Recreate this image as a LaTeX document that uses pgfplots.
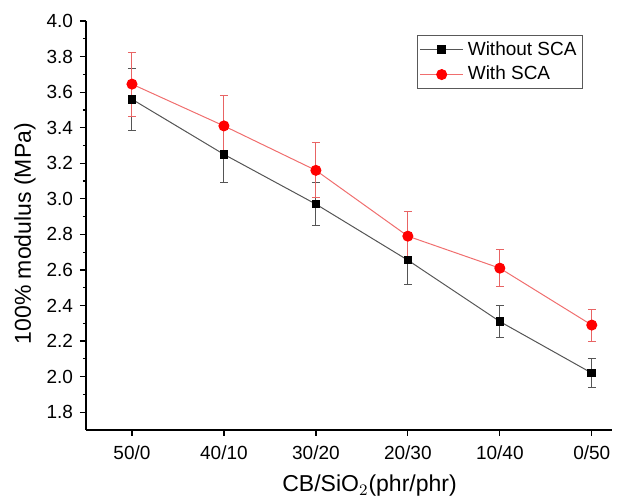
\documentclass[border=0pt]{standalone}
\usepackage{pgfplots}
\pgfplotsset{compat=1.18}
\usepackage{fontspec}
\setmainfont{Liberation Sans}
\definecolor{lgray}{RGB}{85,85,85}
\definecolor{lred}{RGB}{240,110,110}
\definecolor{ered}{RGB}{232,100,100}
\pgfplotstableread{
x y e
0 3.56 0.175
1 3.25 0.16
2 2.97 0.12
3 2.655 0.135
4 2.31 0.09
5 2.02 0.08
}\without
\pgfplotstableread{
x y e
0 3.645 0.18
1 3.41 0.17
2 3.16 0.155
3 2.79 0.14
4 2.61 0.105
5 2.29 0.09
}\withsca
\begin{document}
\begin{tikzpicture}
\useasboundingbox (0,0) rectangle (310pt,248.5pt);
\begin{axis}[
  at={(43pt,33.5pt)}, anchor=south west,
  scale only axis, width=263pt, height=204.5pt,
  xmin=-0.5, xmax=5.22, ymin=1.7, ymax=4.0,
  axis x line=bottom, axis y line=left,
  axis line style={-, line width=0.7pt, black},
  tick align=outside,
  major tick length=3pt, minor tick length=1.6pt,
  every tick/.style={black, line width=0.6pt},
  xtick={0,1,2,3,4,5},
  xticklabels={50/0,40/10,30/20,20/30,10/40,0/50},
  ytick={1.8,2,2.2,2.4,2.6,2.8,3,3.2,3.4,3.6,3.8,4},
  minor ytick={1.9,2.1,2.3,2.5,2.7,2.9,3.1,3.3,3.5,3.7,3.9},
  yticklabel style={/pgf/number format/.cd, fixed, fixed zerofill, precision=1, assume math mode=true},
  xticklabel style={yshift=-1.5pt},
  ticklabel style={font=\fontsize{9.5}{11}\selectfont},
  xlabel={CB/SiO$_2$(phr/phr)},
  ylabel={100\% modulus (MPa)},
  label style={font=\fontsize{11.5}{13}\selectfont},
  xlabel style={at={(axis description cs:0.539,0)}, anchor=base, yshift=-31pt},
  ylabel style={at={(axis description cs:-0.116,0.48)}, anchor=center, rotate=0},
  legend style={at={(0.945,0.966)}, anchor=north east, draw=black!65, line width=0.5pt,
    font=\fontsize{9.5}{10.5}\selectfont, inner sep=1pt, row sep=0pt, cells={anchor=west}},
  legend image code/.code={\draw[mark repeat=2,mark phase=2] plot coordinates {(0cm,0cm) (0.38cm,0cm) (0.76cm,0cm)};},
  clip=false,
]
\addplot[color=lgray, line width=0.5pt, mark=square*, mark size=1.9pt,
  mark options={fill=black, draw=black},
  error bars/.cd, y dir=both, y explicit,
  error bar style={lgray, line width=0.5pt},
  error mark=-,
  error mark options={lgray, rotate=90, mark size=2pt, line width=0.5pt}]
  table[x=x, y=y, y error=e] {\without};
\addlegendentry{Without SCA}
\addplot[color=lred, line width=0.5pt, mark=*, mark size=2.5pt,
  mark options={fill=red, draw=red},
  error bars/.cd, y dir=both, y explicit,
  error bar style={ered, line width=0.5pt},
  error mark=-,
  error mark options={ered, rotate=90, mark size=2pt, line width=0.5pt}]
  table[x=x, y=y, y error=e] {\withsca};
\addlegendentry{With SCA}
\end{axis}
\end{tikzpicture}
\end{document}
